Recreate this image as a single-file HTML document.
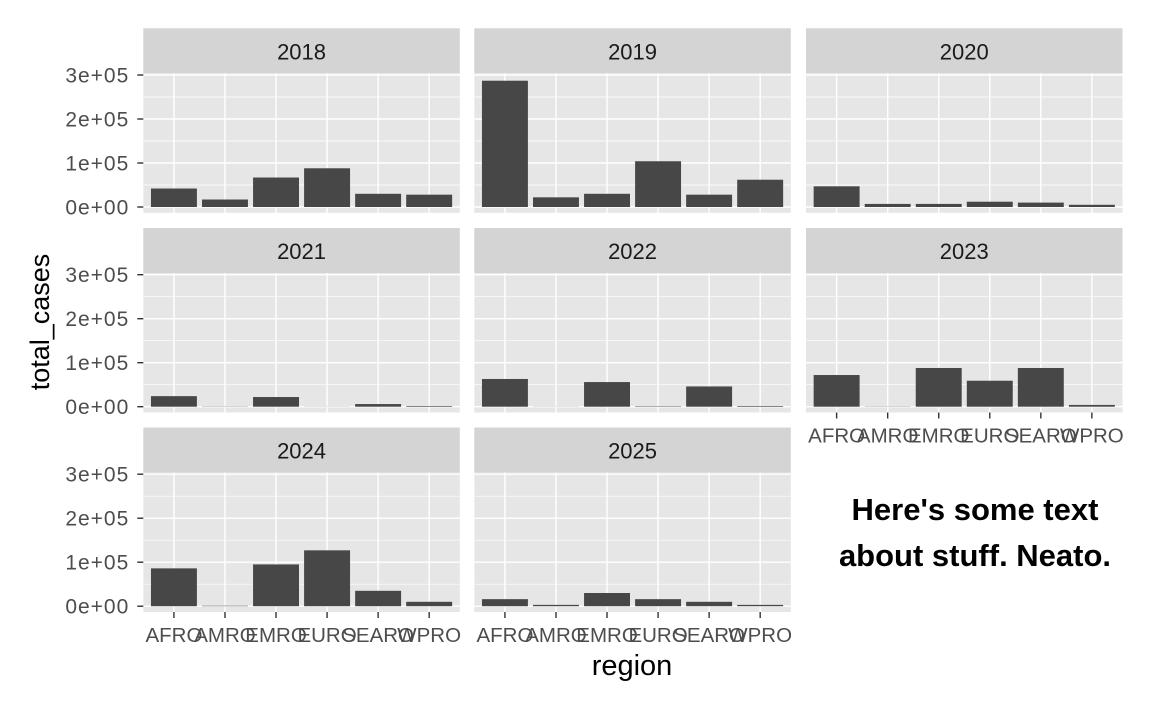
<!DOCTYPE html>
<html><head><meta charset="utf-8"><style>body{margin:0;background:#fff}svg{display:block}text{font-family:"Liberation Sans",Arial,sans-serif}</style></head>
<body>
<svg id="s" width="1152" height="711" xmlns="http://www.w3.org/2000/svg"></svg>
<script>
const s=document.getElementById('s');let h='';
const data={2018:[42000,17000,67000,88000,30000,28000],2019:[287000,22000,30000,104000,28000,62000],2020:[47000,7000,7000,12000,10000,5000],2021:[24000,500,22000,300,6000,1500],2022:[63000,300,56000,1000,46000,1500],2023:[72000,500,88000,59000,88000,4000],2024:[86000,1000,95000,127000,35000,10000],2025:[16000,3000,30000,16000,10000,3000]};
const cats=['AFRO','AMRO','EMRO','EURO','SEARO','WPRO'];
const colX=[143.3,474.3,806],W=316.5,rowY=[28.3,228,427.5];
const years=Object.keys(data);
years.forEach((yr,i)=>{
 const c=i%3,r=Math.floor(i/3),x0=colX[c],sy=rowY[r],py=sy+45,ph=139.5;
 const y0=py+133.7,k=44/100000;
 h+=`<rect x="${x0}" y="${sy}" width="${W}" height="45" fill="#d4d4d4"/>`;
 h+=`<text x="${x0+W/2}" y="${sy+31}" font-size="22" fill="#1a1a1a" text-anchor="middle">${yr}</text>`;
 h+=`<rect x="${x0}" y="${py}" width="${W}" height="${ph}" fill="#e6e6e6"/>`;
 for(let m=0;m<4;m++){const y=y0-(m+0.5)*44; if(y>py)h+=`<line x1="${x0}" x2="${x0+W}" y1="${y}" y2="${y}" stroke="#fff" stroke-width="0.7"/>`;}
 for(let m=0;m<4;m++){const y=y0-m*44;h+=`<line x1="${x0}" x2="${x0+W}" y1="${y}" y2="${y}" stroke="#fff" stroke-width="1.4"/>`;}
 const u=W/6.2;
 cats.forEach((ct,j)=>{const cx=x0+(j+0.6)*u;h+=`<line x1="${cx}" x2="${cx}" y1="${py}" y2="${py+ph}" stroke="#fff" stroke-width="1.4"/>`;});
 data[yr].forEach((v,j)=>{const cx=x0+(j+0.6)*u,bw=0.9*u,bh=v*k;h+=`<rect x="${cx-bw/2}" y="${y0-bh}" width="${bw}" height="${bh}" fill="#474747"/>`;});
 if(c==0){['0e+00','1e+05','2e+05','3e+05'].forEach((l,m)=>{const y=y0-m*44;h+=`<line x1="${x0-6}" x2="${x0}" y1="${y}" y2="${y}" stroke="#333" stroke-width="1.4"/><text x="${x0-14}" y="${y+7.5}" font-size="21" letter-spacing="1" fill="#4d4d4d" text-anchor="end">${l}</text>`;});}
 if(r==2||i==5){cats.forEach((ct,j)=>{const cx=x0+(j+0.6)*u;h+=`<line x1="${cx}" x2="${cx}" y1="${py+ph}" y2="${py+ph+6}" stroke="#333" stroke-width="1.4"/><text x="${cx}" y="${py+ph+30}" font-size="20.5" fill="#4d4d4d" text-anchor="middle">${ct}</text>`;});}
});
h+=`<text x="632" y="675" font-size="29" fill="#000" text-anchor="middle">region</text>`;
h+=`<text transform="translate(49,322) rotate(-90)" font-size="27" fill="#000" text-anchor="middle">total_cases</text>`;
h+=`<text x="975" y="520" font-size="31" font-weight="bold" fill="#000" text-anchor="middle">Here's some text</text>`;
h+=`<text x="975" y="566" font-size="31" font-weight="bold" fill="#000" text-anchor="middle">about stuff. Neato.</text>`;
s.innerHTML=h;
</script>
</body></html>
